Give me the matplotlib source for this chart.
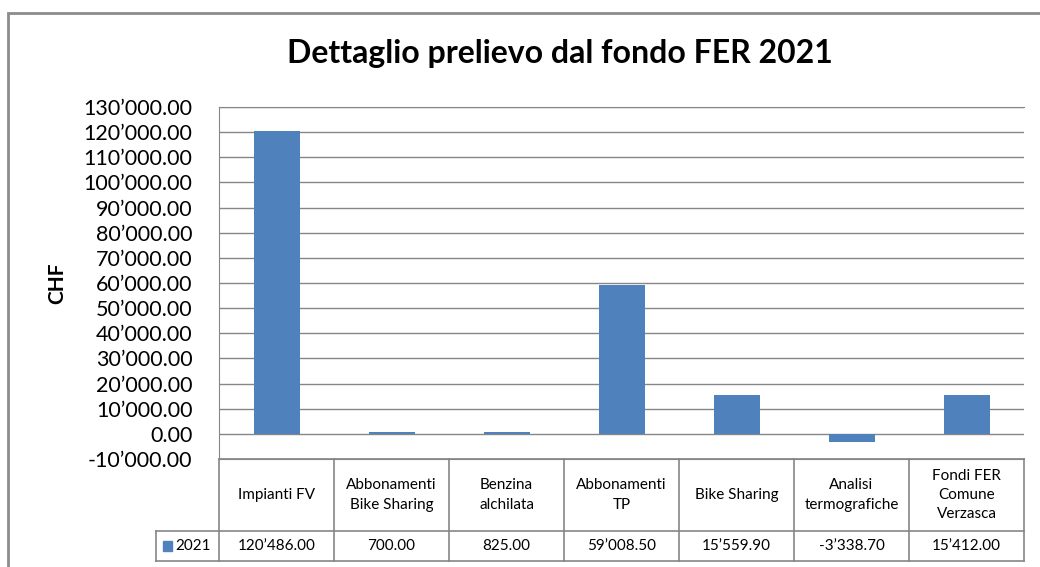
import matplotlib.pyplot as plt
import matplotlib.transforms as mtransforms
from matplotlib.patches import Rectangle
from matplotlib.ticker import FuncFormatter, MultipleLocator

# Data
categories = ["Impianti FV", "Abbonamenti\nBike Sharing", "Benzina\nalchilata",
              "Abbonamenti\nTP", "Bike Sharing", "Analisi\ntermografiche",
              "Fondi FER\nComune\nVerzasca"]
values_2021 = [120486.00, 700.00, 825.00, 59008.50, 15559.90, -3338.70, 15412.00]
series_name = "2021"

bar_color = "#4F81BD"
grid_color = "#868686"
plt.rcParams['font.family'] = ['Lato', 'DejaVu Sans']


def chf(v, pos=None):
    s = f"{abs(v):,.2f}".replace(",", "\u2019")
    return ("-" if v < 0 else "") + s


fig = plt.figure(figsize=(10.4, 5.67), dpi=100)
ax = fig.add_axes([219 / 1040, 1 - 459 / 567, (1024 - 219) / 1040, (459 - 107) / 567])

x = list(range(len(categories)))
ax.bar(x, values_2021, width=0.4, color=bar_color, zorder=3)

ax.set_xlim(-0.5, len(categories) - 0.5)
ax.set_ylim(-10000, 130000)
ax.yaxis.set_major_locator(MultipleLocator(10000))
ax.yaxis.set_major_formatter(FuncFormatter(chf))
ax.grid(axis='y', color=grid_color, linewidth=1, zorder=0)
ax.set_xticks([])
ax.tick_params(axis='y', length=0, labelsize=15.5, pad=19)
for side in ['left', 'top', 'right', 'bottom']:
    ax.spines[side].set_color(grid_color)
ax.spines['right'].set_visible(False)

ax.set_ylabel("CHF", fontsize=15, fontweight='bold', labelpad=12)
fig.text(560 / 1040, 1 - 53 / 567, "Dettaglio prelievo dal fondo FER 2021",
         ha='center', va='center', fontsize=23, fontweight='bold')

# data table under the plot
trans = mtransforms.blended_transform_factory(ax.transData, ax.transAxes)
h_px = 459 - 107
y1 = -(531 - 459) / h_px
y2 = -(561 - 459) / h_px
x_left = -0.5 - (219 - 156) / 115
x_right = len(categories) - 0.5
line_kw = dict(color=grid_color, linewidth=1.2, transform=trans, clip_on=False)

ax.plot([-0.5, x_right], [0, 0], **line_kw)
ax.plot([x_left, x_right], [y1, y1], **line_kw)
ax.plot([x_left, x_right], [y2, y2], **line_kw)
ax.plot([x_left, x_left], [y1, y2], **line_kw)
for i in range(len(categories) + 1):
    ax.plot([i - 0.5, i - 0.5], [0, y2], **line_kw)

for i, (c, v) in enumerate(zip(categories, values_2021)):
    ax.text(i, y1 / 2, c, transform=trans, ha='center', va='center',
            fontsize=11, linespacing=1.5)
    ax.text(i, (y1 + y2) / 2, chf(v), transform=trans, ha='center', va='center',
            fontsize=11)

ax.add_patch(Rectangle((x_left + 0.06, (y1 + y2) / 2 - 0.013), 0.08, 0.026,
                       color=bar_color, transform=trans, clip_on=False))
ax.text(x_left + 0.17, (y1 + y2) / 2, series_name, transform=trans,
        ha='left', va='center', fontsize=11)

# chart frame
fig.patches.append(Rectangle((8 / 1040, -0.05), 1.1, 1 - 13 / 567 + 0.05,
                             transform=fig.transFigure, fill=False,
                             edgecolor="#8c8c8c", linewidth=2))

fig.savefig("out.png", dpi=100)
